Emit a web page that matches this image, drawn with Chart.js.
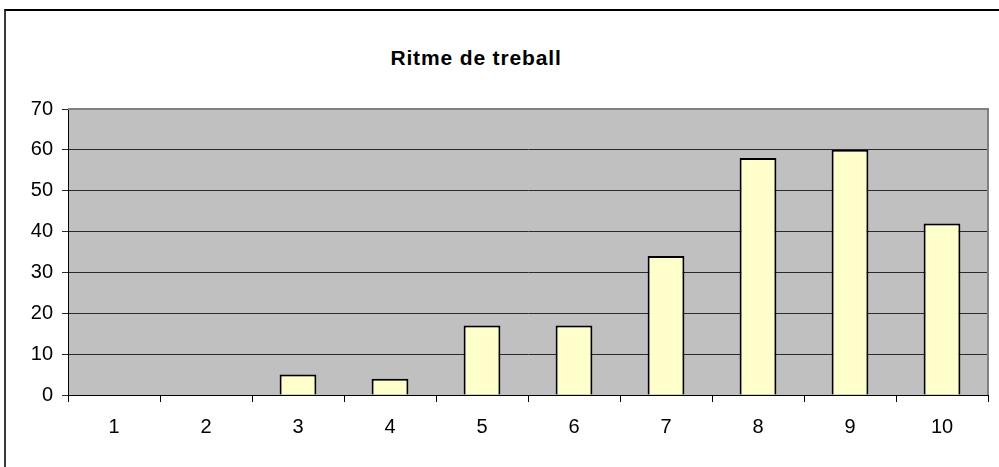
<!DOCTYPE html>
<html>
<head>
<meta charset="utf-8">
<script src="https://cdn.jsdelivr.net/npm/chart.js@4.4.1/dist/chart.umd.min.js"></script>
<style>
  html, body { margin: 0; padding: 0; background: #fff; }
  #wrap { position: relative; width: 999px; height: 467px; overflow: hidden; background: #fff; }
  #frame { position: absolute; left: 4px; top: 9px; width: 1100px; height: 600px;
           border-left: 2px solid #3a3a3a; border-top: 2px solid #000; box-sizing: border-box; }
  #title { position: absolute; left: 0; width: 952px; top: 45px; text-align: center;
           font-family: "Liberation Sans", Arial, sans-serif; font-weight: bold; font-size: 21px;
           letter-spacing: 0.85px; color: #000; line-height: 26px; }
  canvas { position: absolute; left: 0; top: 0; }
</style>
</head>
<body>
<div id="wrap">
  <div id="frame"></div>
  <div id="title">Ritme de treball</div>
  <canvas id="c" width="999" height="467"></canvas>
</div>
<script>
const titleText = "Ritme de treball";
const categories = ["1", "2", "3", "4", "5", "6", "7", "8", "9", "10"];
const values = [0, 0, 5, 4, 17, 17, 34, 58, 60, 42];
const yMin = 0, yMax = 70, yStep = 10;

document.getElementById('title').textContent = titleText;

const plotBg = {
  id: 'plotBg',
  beforeDraw(chart) {
    const a = chart.chartArea, ctx = chart.ctx;
    ctx.save();
    ctx.fillStyle = '#c0c0c0';
    ctx.fillRect(a.left, a.top, a.right - a.left, a.bottom - a.top);
    ctx.restore();
  },
  beforeDatasetsDraw(chart) {
    const a = chart.chartArea, ctx = chart.ctx;
    ctx.save();
    ctx.strokeStyle = '#808080';
    ctx.lineWidth = 2;
    ctx.beginPath();
    ctx.moveTo(a.left, a.top);
    ctx.lineTo(a.right, a.top);
    ctx.lineTo(a.right, a.bottom);
    ctx.stroke();
    ctx.restore();
  }
};

const font = { family: '"Liberation Sans", Arial, sans-serif', size: 20 };

new Chart(document.getElementById('c'), {
  type: 'bar',
  data: {
    labels: categories,
    datasets: [{
      data: values,
      backgroundColor: '#ffffcc',
      borderColor: '#000',
      borderWidth: 2,
      barPercentage: 0.4,
      categoryPercentage: 1.0
    }]
  },
  options: {
    responsive: false,
    animation: false,
    devicePixelRatio: 1,
    layout: { padding: { left: 10, right: 11, top: 109, bottom: 0 } },
    plugins: { legend: { display: false }, title: { display: false }, tooltip: { enabled: false } },
    scales: {
      x: {
        offset: true,
        grid: { display: true, drawOnChartArea: false, drawTicks: true, tickLength: 7, color: '#000', offset: true },
        border: { display: true, color: '#000', width: 1 },
        ticks: { color: '#000', font: font, padding: 13, maxRotation: 0 },
        afterFit(s) { s.height = 72; }
      },
      y: {
        min: yMin, max: yMax,
        grid: { color: '#2a2a2a', lineWidth: 1, drawTicks: true, tickLength: 6 },
        border: { display: true, color: '#000', width: 1 },
        ticks: { stepSize: yStep, color: '#000', font: font, padding: 9 },
        afterFit(s) { s.width = 58; }
      }
    }
  },
  plugins: [plotBg]
});
</script>
</body>
</html>
